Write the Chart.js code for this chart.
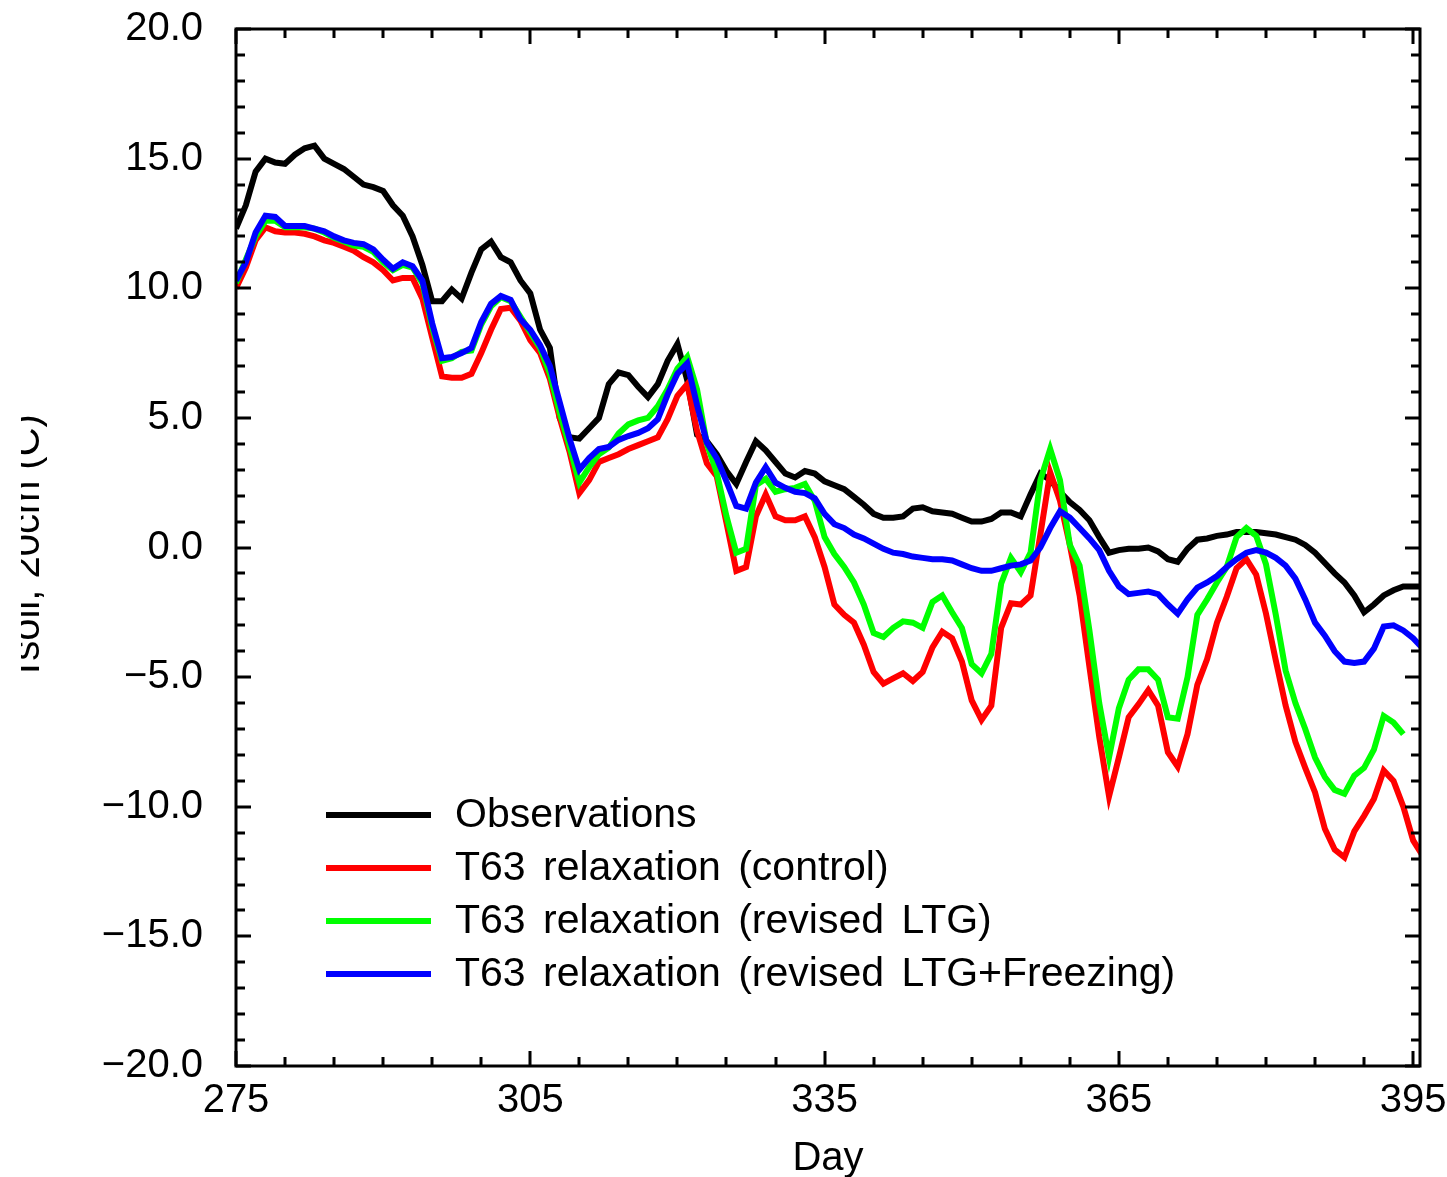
<!DOCTYPE html>
<html lang="en">
<head>
  <meta charset="UTF-8" />
  <title>Tsoil 20cm</title>
  <script src="https://cdn.jsdelivr.net/npm/chart.js@4"></script>
  <style>
    * { margin: 0; padding: 0; box-sizing: border-box; }
    body { background: white; width: 1447px; height: 1177px; overflow: hidden; position: relative; }
    /* canvas starts a bit in from the left, so the axis title is cut by its edge */
    #wrap { position: absolute; left: 21px; top: 0; width: 1426px; height: 1177px; }
  </style>
</head>
<body>
  <div id="wrap"><canvas id="soilChart"></canvas></div>

  <script>
    const days = [
      275, 276, 277, 278, 279, 280, 281, 282, 283, 284, 285, 286, 287, 288, 289, 290, 291, 292, 293, 294,
      295, 296, 297, 298, 299, 300, 301, 302, 303, 304, 305, 306, 307, 308, 309, 310, 311, 312, 313, 314,
      315, 316, 317, 318, 319, 320, 321, 322, 323, 324, 325, 326, 327, 328, 329, 330, 331, 332, 333, 334,
      335, 336, 337, 338, 339, 340, 341, 342, 343, 344, 345, 346, 347, 348, 349, 350, 351, 352, 353, 354,
      355, 356, 357, 358, 359, 360, 361, 362, 363, 364, 365, 366, 367, 368, 369, 370, 371, 372, 373, 374,
      375, 376, 377, 378, 379, 380, 381, 382, 383, 384, 385, 386, 387, 388, 389, 390, 391, 392, 393, 394,
      395, 396
    ];

    const observed = [
      12.3, 13.2, 14.5, 15.0, 14.85, 14.8, 15.15, 15.4, 15.5, 15.0,
      14.8, 14.6, 14.3, 14.0, 13.9, 13.75, 13.2, 12.8, 12.0, 10.9,
      9.5, 9.5, 9.95, 9.6, 10.6, 11.5, 11.8, 11.2, 11.0, 10.3,
      9.8, 8.4, 7.7, 5.0, 4.25, 4.2, 4.6, 5.0, 6.3, 6.75,
      6.65, 6.2, 5.8, 6.3, 7.2, 7.85, 6.45, 4.35, 4.1, 3.6,
      2.95, 2.45, 3.3, 4.1, 3.75, 3.3, 2.85, 2.7, 2.95, 2.85,
      2.55, 2.4, 2.25, 1.95, 1.65, 1.3, 1.15, 1.15, 1.2, 1.5,
      1.55, 1.4, 1.35, 1.3, 1.15, 1.0, 1.0, 1.1, 1.35, 1.35,
      1.2, 2.05, 2.85, 2.6, 2.15, 1.75, 1.45, 1.05, 0.4, -0.2,
      -0.1, -0.05, -0.05, 0.0, -0.15, -0.45, -0.55, -0.05, 0.3, 0.35,
      0.45, 0.5, 0.6, 0.6, 0.6, 0.55, 0.5, 0.4, 0.3, 0.1,
      -0.2, -0.6, -1.0, -1.35, -1.85, -2.5, -2.2, -1.85, -1.65, -1.5,
      -1.5, -1.5
    ];

    const control = [
      10.0, 10.8, 11.85, 12.35, 12.2, 12.15, 12.15, 12.1, 12.0, 11.85,
      11.75, 11.6, 11.45, 11.2, 11.0, 10.7, 10.3, 10.4, 10.4, 9.6,
      8.1, 6.6, 6.55, 6.55, 6.7, 7.5, 8.4, 9.2, 9.25, 8.75,
      8.0, 7.5, 6.5, 5.0, 3.7, 2.1, 2.6, 3.3, 3.45, 3.6,
      3.8, 3.95, 4.1, 4.25, 4.95, 5.85, 6.3, 4.5, 3.25, 2.75,
      0.95, -0.9, -0.75, 1.2, 2.05, 1.2, 1.05, 1.05, 1.2, 0.4,
      -0.75, -2.2, -2.6, -2.9, -3.75, -4.8, -5.25, -5.05, -4.85, -5.15,
      -4.8, -3.85, -3.25, -3.5, -4.4, -5.9, -6.65, -6.1, -3.1, -2.15,
      -2.2, -1.85, 0.5, 2.9, 1.8, 0.1, -1.85, -4.6, -7.3, -9.6,
      -8.1, -6.55, -6.05, -5.5, -6.1, -7.9, -8.45, -7.2, -5.3, -4.3,
      -2.9, -1.9, -0.8, -0.45, -1.05, -2.55, -4.35, -6.1, -7.5, -8.5,
      -9.45, -10.85, -11.65, -11.95, -10.95, -10.35, -9.7, -8.6, -9.0, -10.0,
      -11.3, -11.9
    ];

    const revisedLtg = [
      10.2, 11.1, 12.0, 12.6, 12.6, 12.35, 12.35, 12.35, 12.3, 12.15,
      11.95, 11.8, 11.65, 11.6, 11.4, 11.0, 10.7, 10.9, 10.8, 10.2,
      8.5, 7.2, 7.3, 7.55, 7.6, 8.6, 9.3, 9.65, 9.5, 8.9,
      8.3, 7.7, 6.7, 5.2, 3.9, 2.5, 3.1, 3.6, 3.85, 4.4,
      4.75, 4.9, 5.0, 5.45, 6.1, 6.9, 7.35, 6.1, 4.0, 2.9,
      1.2, -0.2, -0.05, 2.4, 2.65, 2.15, 2.25, 2.3, 2.45, 1.8,
      0.4, -0.25, -0.75, -1.35, -2.2, -3.3, -3.45, -3.1, -2.85, -2.9,
      -3.1, -2.1, -1.85, -2.5, -3.1, -4.5, -4.85, -4.1, -1.4, -0.4,
      -0.95, -0.2, 2.6, 3.8, 2.6, 0.1, -0.7, -3.2, -6.0, -8.1,
      -6.2, -5.1, -4.7, -4.7, -5.1, -6.55, -6.6, -5.0, -2.6, -2.0,
      -1.35, -0.75, 0.4, 0.75, 0.45, -0.65, -2.6, -4.75, -6.0, -7.0,
      -8.1, -8.85, -9.35, -9.5, -8.8, -8.5, -7.8, -6.5, -6.75, -7.2,
      null, null
    ];

    const revisedFreezing = [
      10.3, 11.0, 12.15, 12.8, 12.75, 12.4, 12.4, 12.4, 12.3, 12.2,
      12.0, 11.85, 11.75, 11.7, 11.5, 11.1, 10.75, 11.0, 10.85, 10.3,
      8.65, 7.3, 7.35, 7.5, 7.7, 8.7, 9.4, 9.7, 9.55, 8.8,
      8.4, 7.8, 7.0, 5.6, 4.2, 3.0, 3.45, 3.8, 3.88, 4.15,
      4.3, 4.42, 4.6, 4.95, 5.9, 6.7, 7.1, 5.5, 4.05, 3.45,
      2.55, 1.6, 1.5, 2.5, 3.1, 2.5, 2.3, 2.15, 2.1, 1.9,
      1.3, 0.9, 0.75, 0.5, 0.35, 0.15, -0.05, -0.2, -0.25, -0.35,
      -0.4, -0.45, -0.45, -0.5, -0.65, -0.8, -0.9, -0.9, -0.8, -0.7,
      -0.65, -0.5, 0.0, 0.75, 1.4, 1.15, 0.75, 0.35, -0.1, -0.9,
      -1.5, -1.8, -1.75, -1.7, -1.8, -2.2, -2.55, -2.0, -1.55, -1.35,
      -1.1, -0.75, -0.45, -0.2, -0.1, -0.2, -0.4, -0.7, -1.2, -2.0,
      -2.9, -3.4, -4.0, -4.4, -4.45, -4.4, -3.9, -3.05, -3.0, -3.2,
      -3.5, -3.9
    ];

    const seriesNames = [
      'Observations',
      'T63 relaxation (control)',
      'T63 relaxation (revised LTG)',
      'T63 relaxation (revised LTG+Freezing)'
    ];
    const seriesColors = ['#000000', '#ff0000', '#00ff00', '#0000ff'];

    const xTicks = [275, 305, 335, 365, 395];
    const yTicks = [-20, -15, -10, -5, 0, 5, 10, 15, 20];

    // small ticks every 5 days and every degree
    const xMinor = [];
    for (let d = 275; d <= 395; d += 5) xMinor.push(d);
    const yMinor = [];
    for (let v = -20; v <= 20; v += 1) yMinor.push(v);

    const FONT = '"Liberation Sans", Arial, sans-serif';

    function points(values) {
      return days.map((d, i) => ({ x: d, y: values[i] }));
    }

    // box round the plot with inward ticks on all four sides
    const frame = {
      id: 'frame',
      afterDatasetsDraw(chart) {
        const { ctx, chartArea: a, scales: { x, y } } = chart;
        ctx.save();
        ctx.strokeStyle = '#000';
        ctx.lineWidth = 3;
        ctx.strokeRect(a.left, a.top, a.right - a.left, a.bottom - a.top);
        ctx.beginPath();
        xMinor.forEach(v => {
          const px = Math.round(x.getPixelForValue(v));
          const len = xTicks.includes(v) ? 15 : 9;
          ctx.moveTo(px, a.bottom); ctx.lineTo(px, a.bottom - len);
          ctx.moveTo(px, a.top); ctx.lineTo(px, a.top + len);
        });
        yMinor.forEach(v => {
          const py = Math.round(y.getPixelForValue(v));
          const len = yTicks.includes(v) ? 15 : 9;
          ctx.moveTo(a.left, py); ctx.lineTo(a.left + len, py);
          ctx.moveTo(a.right, py); ctx.lineTo(a.right - len, py);
        });
        ctx.stroke();
        ctx.restore();
      }
    };

    // key in the lower left of the plot
    const key = {
      id: 'key',
      afterDatasetsDraw(chart) {
        const { ctx, chartArea: a } = chart;
        ctx.save();
        ctx.font = '41px ' + FONT;
        ctx.wordSpacing = '6px';
        ctx.textBaseline = 'middle';
        ctx.textAlign = 'left';
        chart.data.datasets.forEach((ds, i) => {
          const yy = a.bottom - 251 + i * 53;
          ctx.strokeStyle = ds.borderColor;
          ctx.lineWidth = 6;
          ctx.beginPath();
          ctx.moveTo(a.left + 90, yy);
          ctx.lineTo(a.left + 195, yy);
          ctx.stroke();
          ctx.fillStyle = '#000';
          ctx.fillText(ds.label, a.left + 219, yy + 1);
        });
        ctx.restore();
      }
    };

    const allSeries = [observed, control, revisedLtg, revisedFreezing];

    const ctx = document.getElementById('soilChart').getContext('2d');
    const chart = new Chart(ctx, {
      type: 'line',
      data: {
        datasets: allSeries.map((vals, i) => ({
          label: seriesNames[i],
          data: points(vals),
          borderColor: seriesColors[i],
          backgroundColor: seriesColors[i],
          borderWidth: 6,
          pointRadius: 0,
          tension: 0,
          fill: false,
          clip: 0,
          order: allSeries.length - 1 - i   // blue ends up on top
        }))
      },
      options: {
        animation: false,
        responsive: true,
        maintainAspectRatio: false,
        layout: { padding: { left: 0, right: 27, top: 29, bottom: 0 } },
        plugins: {
          legend: { display: false },
          tooltip: { enabled: false }
        },
        scales: {
          x: {
            type: 'linear',
            min: 275,
            max: 395.7,
            grid: { display: false, drawTicks: false },
            border: { display: false },
            afterBuildTicks: s => { s.ticks = xTicks.map(v => ({ value: v })); },
            ticks: {
              color: '#000',
              padding: 11,
              maxRotation: 0,
              autoSkip: false,
              font: { family: FONT, size: 40 },
              callback: v => String(v)
            },
            title: {
              display: true,
              text: 'Day',
              color: '#000',
              font: { family: FONT, size: 40 },
              padding: { top: 0, bottom: -6 }
            },
            afterFit: s => { s.height = 111; s.paddingLeft = 0; s.paddingRight = 0; }
          },
          y: {
            min: -20,
            max: 20,
            grid: { display: false, drawTicks: false },
            border: { display: false },
            afterBuildTicks: s => { s.ticks = yTicks.map(v => ({ value: v })); },
            ticks: {
              color: '#000',
              padding: 33,
              font: { family: FONT, size: 40 },
              callback: v => (v < 0 ? '\u2212' : '') + Math.abs(v).toFixed(1)
            },
            title: {
              display: true,
              text: 'Tsoil, 20cm (C)',
              color: '#000',
              font: { family: FONT, size: 40 },
              padding: { top: -17, bottom: 0 }
            },
            afterFit: s => { s.width = 215; s.paddingTop = 0; s.paddingBottom = 0; }
          }
        }
      },
      plugins: [frame, key]
    });
  </script>
</body>
</html>
